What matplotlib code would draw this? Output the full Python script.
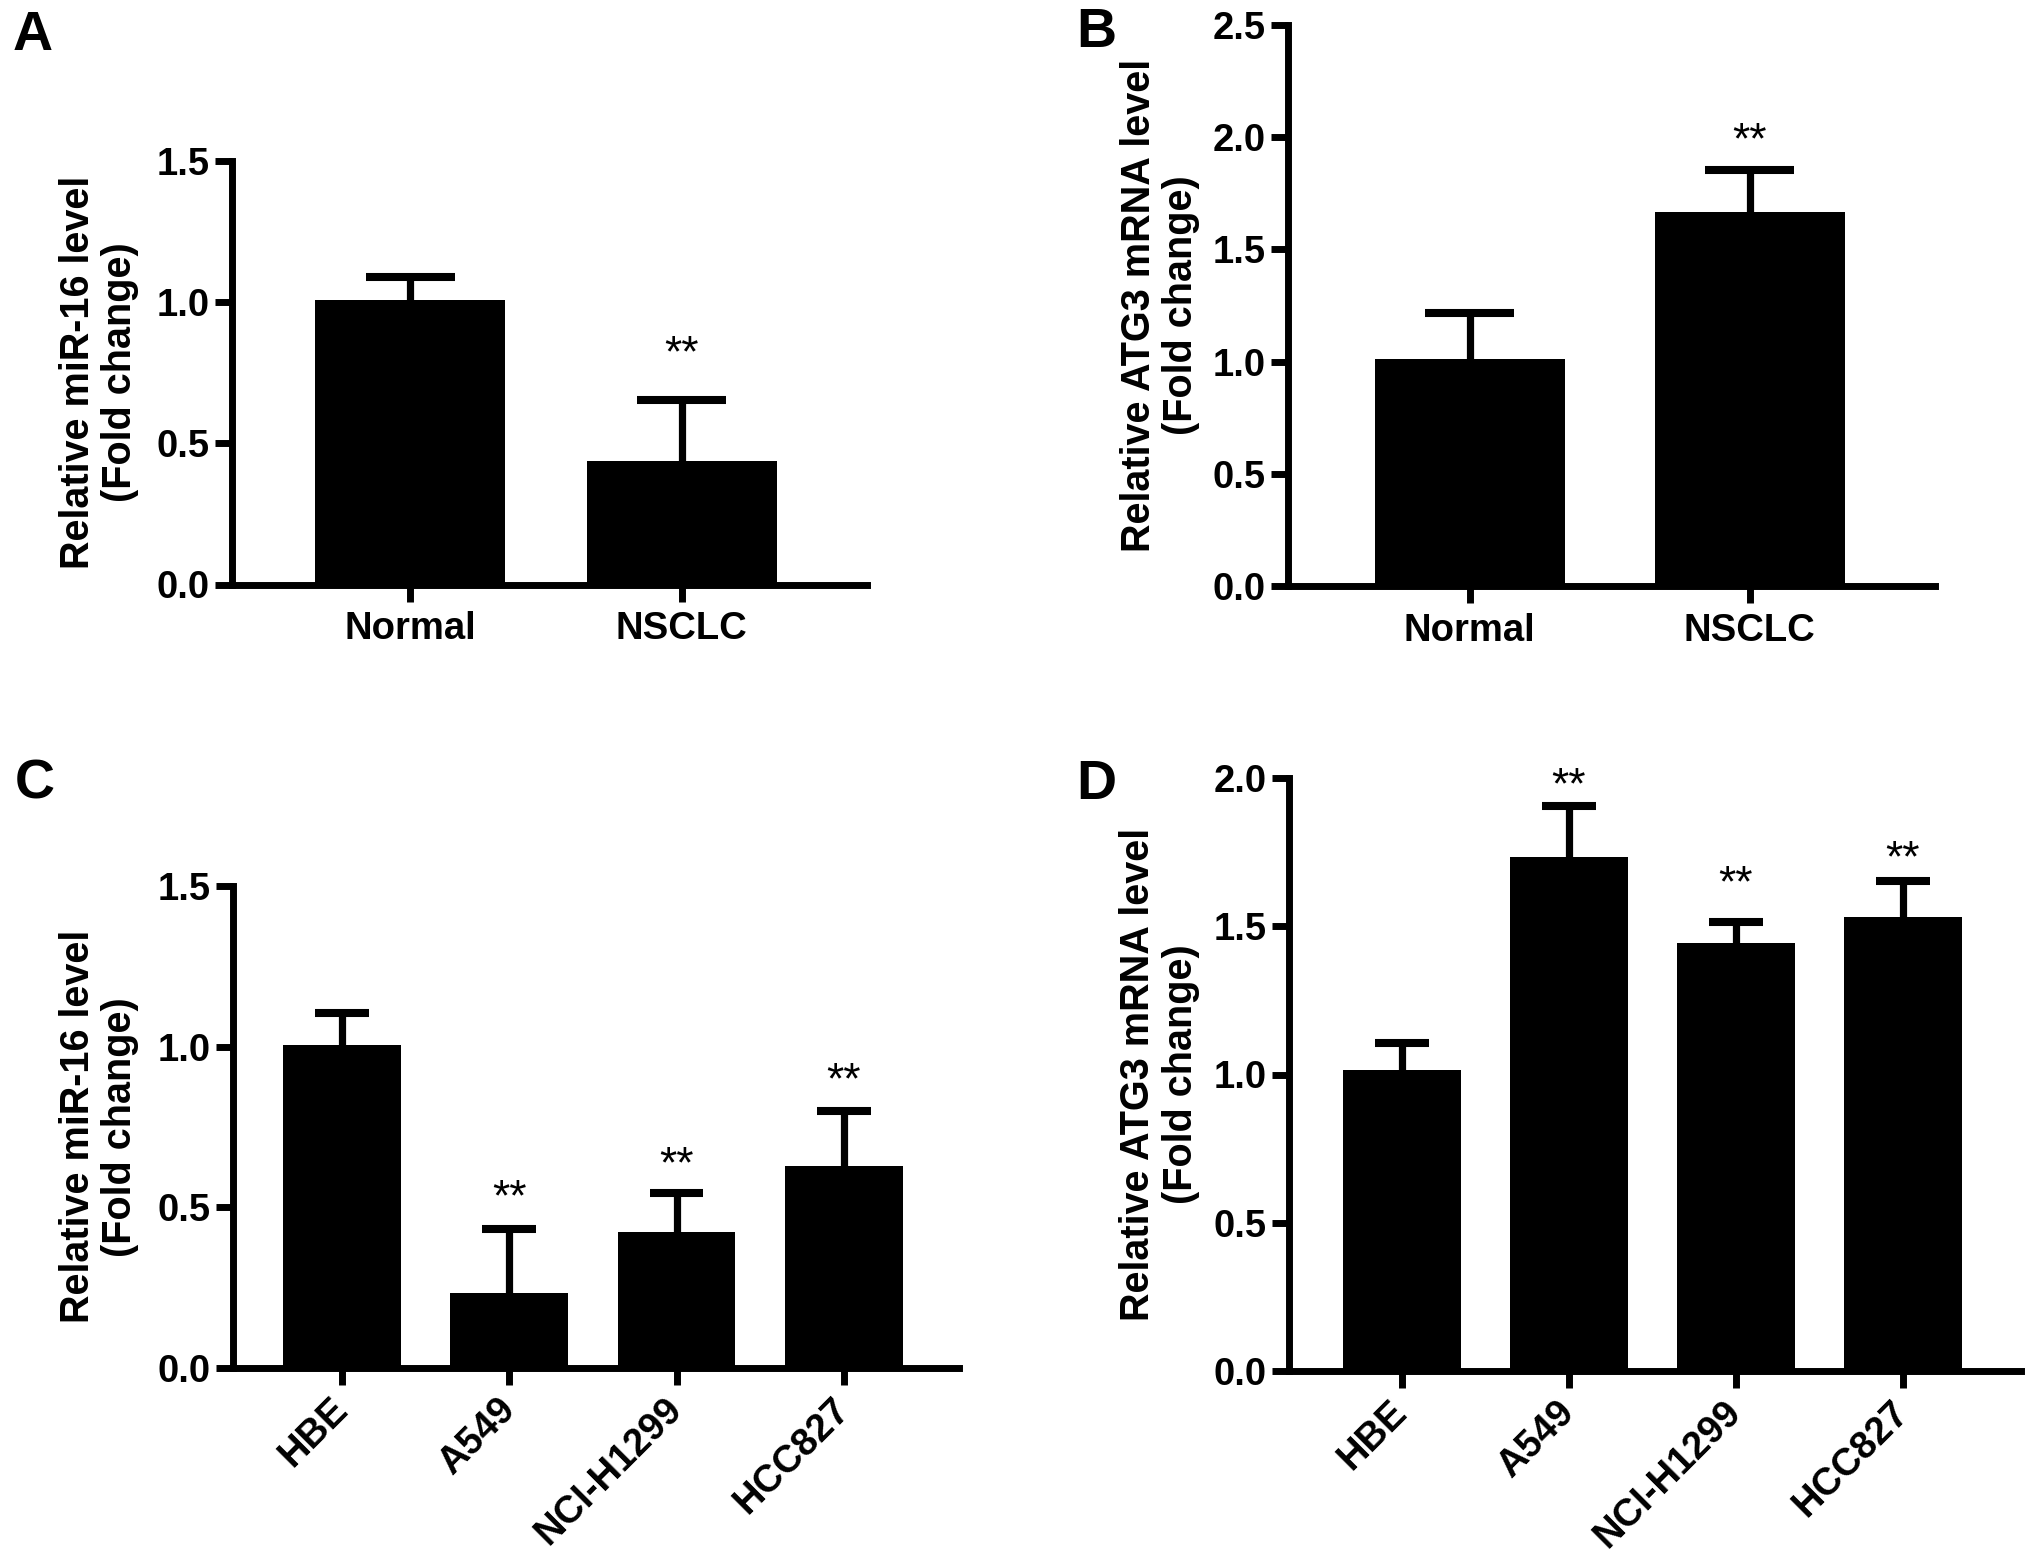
import matplotlib
matplotlib.use('Agg')
import matplotlib.pyplot as plt
from matplotlib import font_manager
import numpy as np

# ---------------- data ----------------
a_cats = ['Normal', 'NSCLC']
a_means = [1.005, 0.437]
a_upper = [1.088, 0.652]
a_sig = [None, 0.862]

b_cats = ['Normal', 'NSCLC']
b_means = [1.011, 1.669]
b_upper = [1.216, 1.854]
b_sig = [None, 2.043]

c_cats = ['HBE', 'A549', 'NCI-H1299', 'HCC827']
c_means = [1.005, 0.232, 0.422, 0.629]
c_upper = [1.104, 0.431, 0.543, 0.800]
c_sig = [None, 0.569, 0.673, 0.936]

d_cats = ['HBE', 'A549', 'NCI-H1299', 'HCC827']
d_means = [1.015, 1.735, 1.445, 1.532]
d_upper = [1.105, 1.906, 1.513, 1.654]
d_sig = [None, 2.020, 1.687, 1.771]

mir_label = 'Relative miR-16 level\n(Fold change)'
atg_label = 'Relative ATG3 mRNA level\n(Fold change)'

# ---------------- fonts ----------------
names = {f.name for f in font_manager.fontManager.ttflist}
sans = 'Liberation Sans' if 'Liberation Sans' in names else 'DejaVu Sans'
plt.rcParams['font.family'] = [sans, 'DejaVu Sans']

fig = plt.figure(figsize=(20.31, 15.65), dpi=100)
fig.patch.set_facecolor('white')

LW = 5.0
TICKFS = 27.5
STARFS = 32


def panel(rect, cats, means, upper, sig, ylim, yticks, ylabel, lab_x, rotate,
          cap_hw, xlim, width):
    ax = fig.add_axes(rect)
    x = np.arange(len(cats))
    means = np.array(means)
    upper = np.array(upper)
    ax.bar(x, means, width=width, color='black', edgecolor='none', zorder=2)
    # upper-only error bars
    ax.vlines(x, means, upper, color='black', linewidth=5.2, zorder=3,
              capstyle='butt')
    ax.hlines(upper, x - cap_hw, x + cap_hw, color='black', linewidth=5.8,
              zorder=3, capstyle='butt')
    for xi, s in zip(x, sig):
        if s is not None:
            ax.annotate('**', xy=(xi, s), xytext=(0, -0.58 * STARFS),
                        textcoords='offset points', ha='center',
                        va='baseline', fontsize=STARFS, family=[sans],
                        annotation_clip=False)
    ax.set_xlim(*xlim)
    ax.set_ylim(*ylim)
    ax.set_yticks(yticks)
    ax.set_yticklabels([f'{t:.1f}' for t in yticks], family=[sans],
                       fontsize=TICKFS, fontweight='bold')
    ax.set_xticks(x)
    if rotate:
        ax.set_xticklabels(cats, rotation=45, ha='right', va='center',
                           rotation_mode='anchor', family=[sans],
                           fontsize=TICKFS, fontweight='bold')
        ax.tick_params(axis='x', pad=14)
    else:
        ax.set_xticklabels(cats, family=[sans], fontsize=TICKFS,
                           fontweight='bold')
        ax.tick_params(axis='x', pad=7)
    for side in ('top', 'right'):
        ax.spines[side].set_visible(False)
    for side in ('left', 'bottom'):
        ax.spines[side].set_linewidth(LW)
        ax.spines[side].set_capstyle('projecting')
    ax.tick_params(axis='both', width=LW, length=12, direction='out',
                   color='black')
    ax.tick_params(axis='y', pad=4)
    ax.set_ylabel(ylabel, fontsize=28.5, fontweight='bold', family=[sans],
                  linespacing=1.15)
    ax.yaxis.set_label_coords(lab_x, 0.5)
    return ax


W, H = 2031.0, 1565.0


def rect(l, r, b, t):
    return [l / W, 1 - b / H, (r - l) / W, (b - t) / H]


panel(rect(232, 866.7, 584.5, 160.5), a_cats, a_means, a_upper, a_sig,
      (0, 1.5), [0.0, 0.5, 1.0, 1.5], mir_label, -0.1465, False, 0.164,
      (-0.657, 1.682), 0.70)
panel(rect(1288, 1935, 586.2, 25), b_cats, b_means, b_upper, b_sig,
      (0, 2.5), [0.0, 0.5, 1.0, 1.5, 2.0, 2.5], atg_label, -0.136, False,
      0.159, (-0.649, 1.661), 0.68)
panel(rect(233, 959, 1367.7, 886), c_cats, c_means, c_upper, c_sig,
      (0, 1.5), [0.0, 0.5, 1.0, 1.5], mir_label, -0.129, True, 0.161,
      (-0.652, 3.689), 0.705)
panel(rect(1289, 2021, 1371, 778), d_cats, d_means, d_upper, d_sig,
      (0, 2.0), [0.0, 0.5, 1.0, 1.5, 2.0], atg_label, -0.1216, True, 0.162,
      (-0.674, 3.706), 0.706)

for letter, lx, ty in [('A', 13, 20), ('B', 1076, 17), ('C', 15, 769),
                       ('D', 1076, 769)]:
    fig.text(lx / W, 1 - (ty - 10) / H, letter, fontsize=40,
             fontweight='bold', ha='left', va='top', family=[sans])

fig.savefig('out.png', dpi=100, facecolor='white')
